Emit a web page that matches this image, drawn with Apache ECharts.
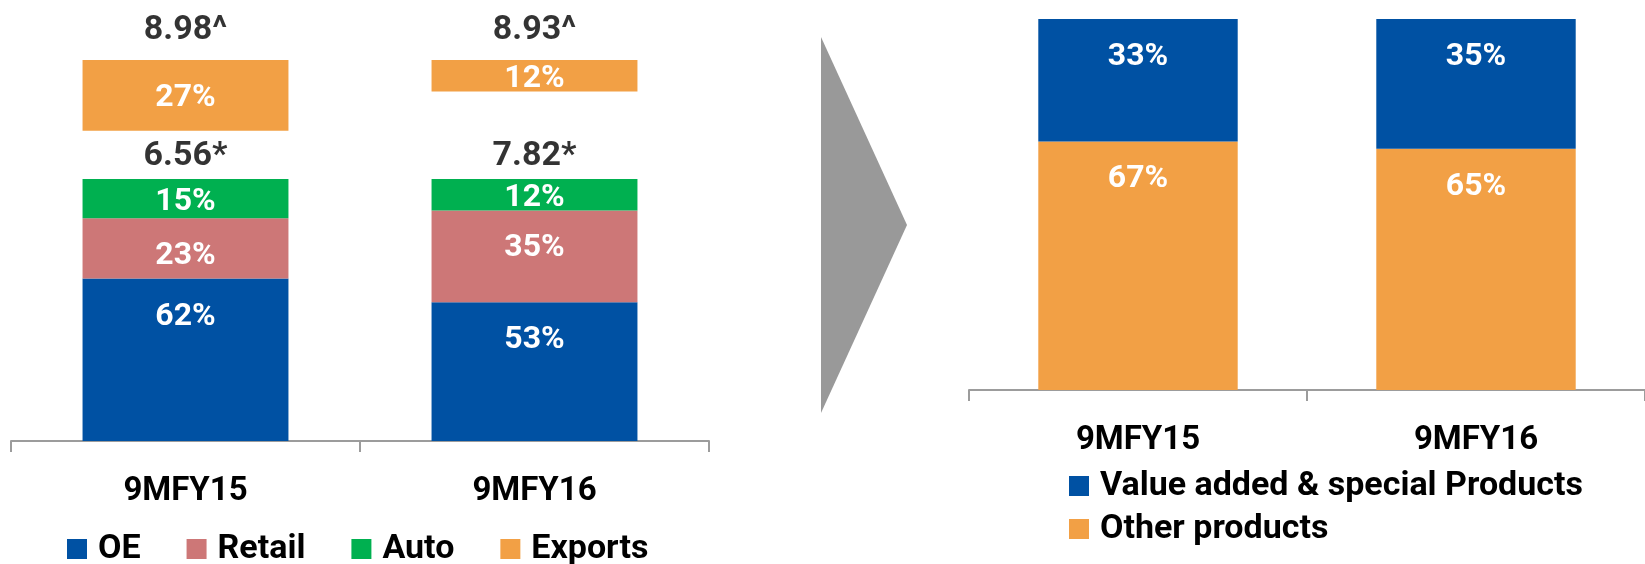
<!DOCTYPE html>
<html>
<head>
<meta charset="utf-8">
<script src="https://cdn.jsdelivr.net/npm/echarts@6/dist/echarts.min.js"></script>
<style>
  html, body { margin: 0; padding: 0; background: #ffffff; }
  #chart { width: 1645px; height: 564px; }
</style>
</head>
<body>
<div id="chart"></div>
<script>
// Periods shown on both panels
const categories = ['9MFY15', '9MFY16'];

// Left panel: segment mix (%), domestic stack plus exports block
const oeShare = [62, 53];
const retailShare = [23, 35];
const autoShare = [15, 12];
const exportsShare = [27, 12];

// Volume totals printed above the stacks
const domesticTotals = ['6.56*', '7.82*'];
const overallTotals = ['8.98^', '8.93^'];

// Right panel: product mix (%)
const valueAddedShare = [33, 35];
const otherShare = [67, 65];

const FONT = 'Roboto';
const BLUE = '#0051A3';
const PINK = '#CD7777';
const GREEN = '#00B050';
const ORANGE = '#F2A045';
const AXIS_GREY = '#9C9C9C';

// Tall segments carry their label near the top, short ones are centred
function segData(values) {
  return values.map(v => ({
    value: v,
    label: v >= 20
      ? { position: 'insideTop', distance: 22 }
      : { position: 'inside', offset: [0, 3] }
  }));
}

const pctLabel = {
  show: true,
  formatter: '{c}%',
  color: '#ffffff',
  fontFamily: FONT,
  fontWeight: 'bold',
  fontSize: 32,
  lineHeight: 32
};

function stackBar(name, values, color, xi, yi, stack) {
  return {
    name: name,
    type: 'bar',
    stack: stack,
    xAxisIndex: xi,
    yAxisIndex: yi,
    barWidth: '59%',
    itemStyle: { color: color },
    label: pctLabel,
    data: segData(values),
    emphasis: { disabled: true }
  };
}

function totalsMarker(texts, level, xi, yi, distance) {
  return {
    type: 'scatter',
    xAxisIndex: xi,
    yAxisIndex: yi,
    symbolSize: 0,
    silent: true,
    data: texts.map(() => level),
    label: {
      show: true,
      position: 'top',
      distance: distance,
      formatter: p => texts[p.dataIndex],
      color: '#000000',
      fontFamily: FONT,
      fontWeight: 'bold',
      fontSize: 34,
      lineHeight: 34
    }
  };
}

const catAxisBase = {
  type: 'category',
  data: categories,
  axisLine: { show: true, lineStyle: { color: AXIS_GREY, width: 2 } },
  axisTick: { show: true, length: 11, lineStyle: { color: AXIS_GREY, width: 2 } },
  axisLabel: {
    margin: 34,
    color: '#000000',
    fontFamily: FONT,
    fontWeight: 'bold',
    fontSize: 33,
    lineHeight: 33
  }
};

const legendText = {
  color: '#000000',
  fontFamily: FONT,
  fontWeight: 'bold',
  fontSize: 34,
  lineHeight: 34,
  padding: [0, 0, 0, 6]
};

const chart = echarts.init(document.getElementById('chart'), null, { renderer: 'canvas' });

chart.setOption({
  animation: false,
  backgroundColor: '#ffffff',
  grid: [
    { left: 11, top: 179, width: 698, height: 262 },   // domestic stack
    { left: 11, top: 60, width: 698, height: 262 },    // exports block, hanging from the top
    { left: 969, top: 19, width: 686, height: 371 }    // product mix
  ],
  xAxis: [
    Object.assign({ gridIndex: 0 }, catAxisBase),
    { gridIndex: 1, type: 'category', data: categories, show: false },
    Object.assign({ gridIndex: 2 }, catAxisBase)
  ],
  yAxis: [
    { gridIndex: 0, type: 'value', min: 0, max: 100, show: false },
    { gridIndex: 1, type: 'value', min: 0, max: 100, inverse: true, show: false },
    { gridIndex: 2, type: 'value', min: 0, max: 100, show: false }
  ],
  legend: [
    {
      data: ['OE', 'Retail', 'Auto', 'Exports'],
      orient: 'horizontal',
      left: 67,
      top: 532,
      padding: 0,
      icon: 'rect',
      itemWidth: 20,
      itemHeight: 20,
      itemGap: 46,
      selectedMode: false,
      textStyle: legendText
    },
    {
      data: ['Value added & special Products', 'Other products'],
      orient: 'vertical',
      left: 1069,
      top: 469,
      padding: 0,
      icon: 'rect',
      itemWidth: 20,
      itemHeight: 20,
      itemGap: 9,
      selectedMode: false,
      textStyle: legendText
    }
  ],
  graphic: [
    {
      // grey chevron linking the two panels
      type: 'polygon',
      shape: { points: [[821, 37], [907, 225], [821, 413]] },
      style: { fill: '#999999' },
      silent: true
    }
  ],
  series: [
    stackBar('OE', oeShare, BLUE, 0, 0, 'domestic'),
    stackBar('Retail', retailShare, PINK, 0, 0, 'domestic'),
    stackBar('Auto', autoShare, GREEN, 0, 0, 'domestic'),
    stackBar('Exports', exportsShare, ORANGE, 1, 1, 'exports'),
    totalsMarker(domesticTotals, 100, 0, 0, 6),
    totalsMarker(overallTotals, 0, 1, 1, 13),
    stackBar('Other products', otherShare, ORANGE, 2, 2, 'mix'),
    stackBar('Value added & special Products', valueAddedShare, BLUE, 2, 2, 'mix')
  ]
});
</script>
</body>
</html>
